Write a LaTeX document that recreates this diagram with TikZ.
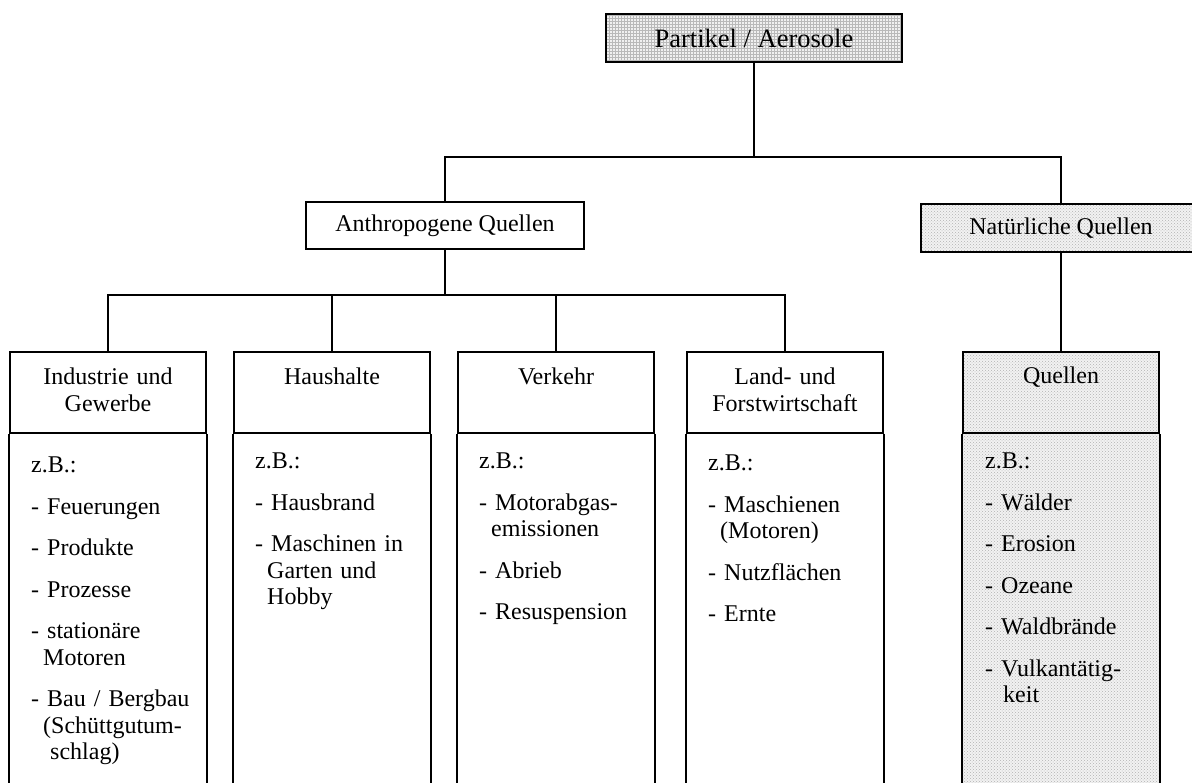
\documentclass[tikz,border=0pt]{standalone}
\usepackage{fontspec}
\setmainfont{Liberation Serif}
\usetikzlibrary{patterns}
\begin{document}
\begin{tikzpicture}[x=1pt,y=-1pt,
  conn/.style={line width=1.8pt},
  box/.style={draw,line width=1.8pt,rectangle,inner sep=0pt},
  hdbox/.style={box,minimum width=196pt,minimum height=81pt},
  gridfill/.style={preaction={fill=gray!12},pattern=grid,pattern color=gray!55},
  dotfill/.style={preaction={fill=gray!10},pattern=crosshatch dots,pattern color=gray!60},
  txt/.style={inner sep=0pt,font=\fontsize{24}{26.5}\selectfont},
  hdtxt/.style={txt,text width=190pt,align=center,anchor=base},
  bodytxt/.style={txt,anchor=base west,text width=175pt,align=left},
]
\useasboundingbox (0,0) rectangle (1192,783);
\coordinate (bot) at (0,795);

% top level
\node[box,gridfill,minimum width=296pt,minimum height=48pt,font=\fontsize{26.5}{30}\selectfont] (top) at (754,38) {Partikel / Aerosole};
\node[box,minimum width=278pt,minimum height=47pt,txt] (anth) at (445,225.5) {Anthropogene Quellen};
\node[box,dotfill,minimum width=280pt,minimum height=48pt,txt] (nat) at (1061,228) {Natürliche Quellen};

\draw[conn] (top.south) -- ++(0,94) coordinate (j1);
\draw[conn] (anth.north) |- (j1) -| (nat.north);

% column headers
\node[hdbox] (h1) at (108,392.5) {};
\node[hdbox] (h2) at (332,392.5) {};
\node[hdbox] (h3) at (556,392.5) {};
\node[hdbox] (h4) at (785,392.5) {};

\path[dotfill] (963,433) rectangle (1159,795);
\node[hdbox,dotfill] (q) at (1061,392.5) {};

\draw[conn] (anth.south) -- ++(0,45) coordinate (j2);
\draw[conn] (h1.north) |- (j2) -| (h4.north);
\draw[conn] (h2.north) -- (h2.north |- j2);
\draw[conn] (h3.north) -- (h3.north |- j2);
\draw[conn] (nat.south) -- (q.north);

% open column bodies
\foreach \h in {h1,h2,h3,h4,q}{
  \draw[conn] (\h.south west) -- (\h.south west |- bot);
  \draw[conn] (\h.south east) -- (\h.south east |- bot);
}

% header texts
\node[hdtxt] (t1) at (108,385) {Industrie und\\Gewerbe};
\node[hdtxt] (t2) at (332,385) {Haushalte};
\node[hdtxt] (t3) at (556,385) {Verkehr};
\node[hdtxt] (t4) at (785,385) {Land- und\\Forstwirtschaft};
\node[hdtxt] (t5) at (1061,384) {Quellen};

% body texts
\node[bodytxt] (b1) at (31,473) {z.B.:\\[15pt]
- Feuerungen\\[15pt]
- Produkte\\[15pt]
- Prozesse\\[15pt]
- stationäre\\
\hspace*{12pt}Motoren\\[15pt]
- Bau / Bergbau\\
\hspace*{12pt}(Schüttgutum-\\
\hspace*{19pt}schlag)};

\node[bodytxt] (b2) at (255,469) {z.B.:\\[15pt]
- Hausbrand\\[15pt]
- Maschinen in\\
\hspace*{12pt}Garten und\\
\hspace*{12pt}Hobby};

\node[bodytxt] (b3) at (479,469) {z.B.:\\[15pt]
- Motorabgas-\\
\hspace*{12pt}emissionen\\[15pt]
- Abrieb\\[15pt]
- Resuspension};

\node[bodytxt] (b4) at (708,471) {z.B.:\\[15pt]
- Maschienen\\
\hspace*{12pt}(Motoren)\\[15pt]
- Nutzflächen\\[15pt]
- Ernte};

\node[bodytxt] (b5) at (985,469) {z.B.:\\[15pt]
- Wälder\\[15pt]
- Erosion\\[15pt]
- Ozeane\\[15pt]
- Waldbrände\\[15pt]
- Vulkantätig-\\
\hspace*{18pt}keit};
\end{tikzpicture}
\end{document}
